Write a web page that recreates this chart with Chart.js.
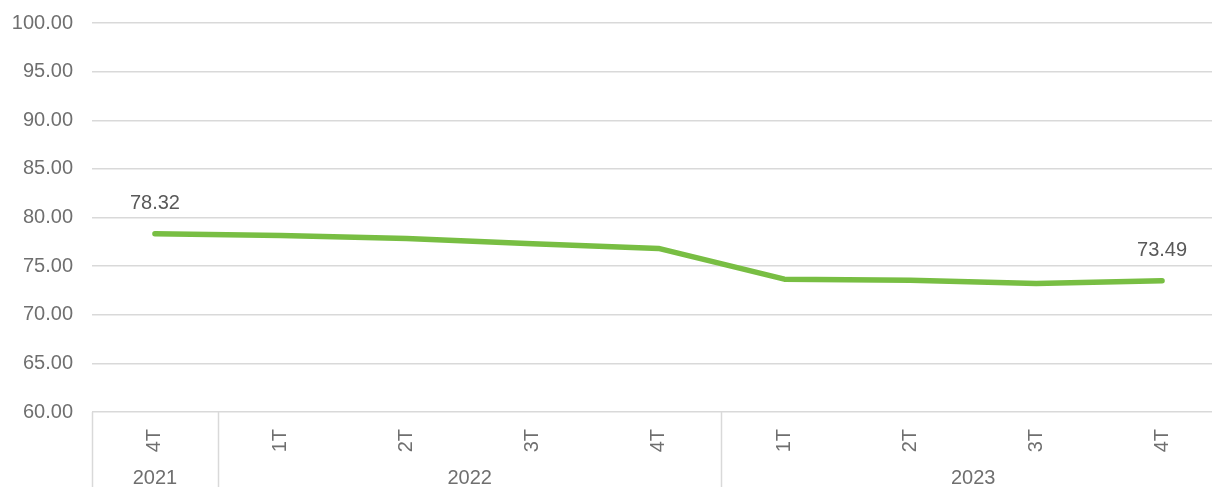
<!DOCTYPE html>
<html>
<head>
<meta charset="utf-8">
<script src="https://cdn.jsdelivr.net/npm/chart.js@4.4.0/dist/chart.umd.min.js"></script>
<style>
  html, body { margin: 0; padding: 0; background: #fff; overflow: hidden; }
  #wrap { width: 1225px; height: 487px; }
</style>
</head>
<body>
<div id="wrap"><canvas id="c" width="1225" height="487"></canvas></div>
<script>
const categories = ['4T', '1T', '2T', '3T', '4T', '1T', '2T', '3T', '4T'];
const years = ['2021', '2022', '2023'];
const yearSpans = [1, 4, 4];
const values = [78.32, 78.16, 77.85, 77.30, 76.82, 73.66, 73.56, 73.22, 73.49];
const labeledPoints = [0, 8];
const yMin = 60, yMax = 100, yStep = 5;

const FONT = "'Liberation Sans', Arial, sans-serif";
const AXIS_COLOR = '#6f6f6f';
const LABEL_COLOR = '#595959';
const GRID = '#d9d9d9';

const groupPlugin = {
  id: 'groups',
  afterDraw(chart) {
    const ctx = chart.ctx;
    const x = chart.scales.x;
    const area = chart.chartArea;
    const half = (x.getPixelForValue(1) - x.getPixelForValue(0)) / 2;
    ctx.save();
    ctx.strokeStyle = GRID;
    ctx.lineWidth = 1.5;
    let idx = 0;
    const bounds = [0];
    yearSpans.forEach(s => { idx += s; bounds.push(idx); });
    bounds.forEach(b => {
      const px = Math.round(x.getPixelForValue(b) - half) + 0.5;
      ctx.beginPath();
      ctx.moveTo(px, area.bottom);
      ctx.lineTo(px, chart.height);
      ctx.stroke();
    });
    ctx.fillStyle = AXIS_COLOR;
    ctx.font = '20px ' + FONT;
    ctx.textAlign = 'center';
    ctx.textBaseline = 'middle';
    years.forEach((yr, i) => {
      const l = x.getPixelForValue(bounds[i]) - half;
      const r = x.getPixelForValue(bounds[i + 1]) - half;
      ctx.fillText(yr, (l + r) / 2, 478);
    });
    // data labels
    const meta = chart.getDatasetMeta(0);
    ctx.fillStyle = LABEL_COLOR;
    labeledPoints.forEach(i => {
      const p = meta.data[i];
      ctx.fillText(values[i].toFixed(2), p.x, p.y - 30);
    });
    ctx.restore();
  }
};

new Chart(document.getElementById('c'), {
  type: 'line',
  data: {
    labels: categories,
    datasets: [{
      data: values,
      borderColor: '#78BE43',
      borderWidth: 5.5,
      borderCapStyle: 'round',
      borderJoinStyle: 'round',
      pointRadius: 0,
      tension: 0,
      fill: false
    }]
  },
  options: {
    responsive: false,
    animation: false,
    devicePixelRatio: 1,
    layout: { padding: { top: 23, right: 0, left: 0, bottom: 0 } },
    plugins: { legend: { display: false }, tooltip: { enabled: false } },
    scales: {
      x: {
        offset: true,
        grid: { display: false, drawTicks: false },
        border: { display: false },
        ticks: {
          minRotation: 90, maxRotation: 90,
          padding: 17,
          color: AXIS_COLOR,
          font: { family: FONT, size: 20 }
        },
        afterFit(s) { s.height = 75; s.paddingLeft = 0; s.paddingRight = 0; }
      },
      y: {
        min: yMin, max: yMax,
        grid: { color: GRID, lineWidth: 1.5, drawTicks: false },
        border: { display: false },
        ticks: {
          stepSize: yStep,
          padding: 19,
          color: AXIS_COLOR,
          font: { family: FONT, size: 20 },
          callback: v => Number(v).toFixed(2)
        },
        afterFit(s) { s.width = 92; s.paddingTop = 0; s.paddingBottom = 0; }
      }
    }
  },
  plugins: [groupPlugin]
});
</script>
</body>
</html>
